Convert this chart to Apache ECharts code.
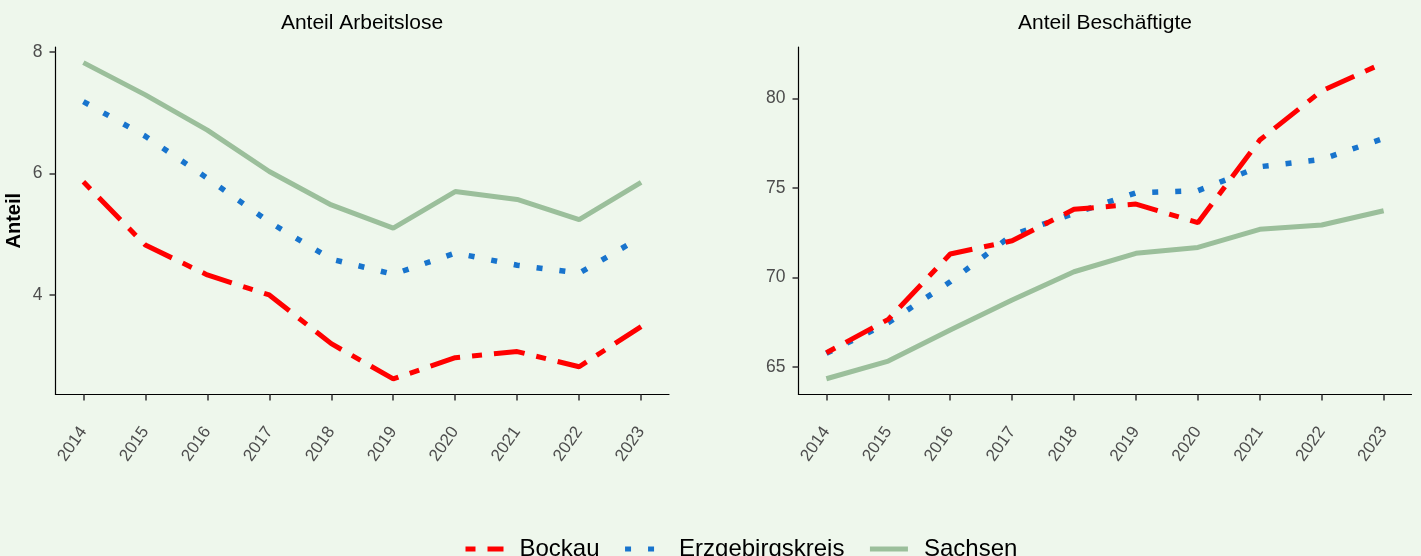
<!DOCTYPE html>
<html>
<head>
<meta charset="utf-8">
<script src="https://cdn.jsdelivr.net/npm/echarts@6/dist/echarts.min.js"></script>
<style>
  html, body { margin: 0; padding: 0; background: #EEF7EC; }
  #chart { width: 1421px; height: 556px; }
</style>
</head>
<body>
<div id="chart"></div>
<script>
// years shown on both panels
const years = [2014, 2015, 2016, 2017, 2018, 2019, 2020, 2021, 2022, 2023];

// Anteil Arbeitslose
const arbeitsloseBockau = [5.86, 4.82, 4.33, 4.00, 3.20, 2.62, 2.97, 3.07, 2.82, 3.48];
const arbeitsloseErzgebirge = [7.18, 6.61, 5.92, 5.20, 4.59, 4.34, 4.69, 4.49, 4.36, 4.95];
const arbeitsloseSachsen = [7.82, 7.29, 6.71, 6.03, 5.48, 5.10, 5.70, 5.57, 5.24, 5.85];

// Anteil Beschäftigte
const beschBockau = [65.78, 67.65, 71.30, 72.04, 73.80, 74.09, 73.05, 77.67, 80.42, 81.98];
const beschErzgebirge = [65.75, 67.46, 69.75, 72.36, 73.57, 74.72, 74.84, 76.18, 76.59, 77.76];
const beschSachsen = [64.33, 65.32, 67.05, 68.73, 70.31, 71.34, 71.67, 72.68, 72.92, 73.72];

const leftTicks = [4, 6, 8];
const rightTicks = [65, 70, 75, 80];

const FONT = 'Liberation Sans, Arial, sans-serif';
const RED = '#FF0000', BLUE = '#1874CD', GREEN = '#9BBF9B';

function pairs(vals) {
    return years.map((y, i) => [y, vals[i]]);
}

function xAxisFor(gridIndex) {
    return {
        type: 'value',
        gridIndex: gridIndex,
        min: 2013.55,
        max: 2023.45,
        axisLine: { show: true, onZero: false, lineStyle: { color: '#000', width: 1.2 } },
        axisTick: { show: true, length: 6, customValues: years, lineStyle: { color: '#333', width: 1.5 } },
        axisLabel: {
            customValues: years,
            rotate: 55,
            margin: 34,
            fontSize: 17,
            fontFamily: FONT,
            color: '#4D4D4D',
            formatter: v => String(v)
        },
        splitLine: { show: false }
    };
}

function yAxisFor(gridIndex, min, max, ticks, name) {
    return {
        type: 'value',
        gridIndex: gridIndex,
        min: min,
        max: max,
        name: name,
        nameLocation: 'middle',
        nameGap: 31,
        nameTextStyle: { fontSize: 20, fontWeight: 'bold', color: '#000', fontFamily: FONT },
        axisLine: { show: true, lineStyle: { color: '#000', width: 1.2 } },
        axisTick: { show: true, length: 6, customValues: ticks, lineStyle: { color: '#333', width: 1.5 } },
        axisLabel: { customValues: ticks, margin: 13, fontSize: 17.5, fontFamily: FONT, color: '#4D4D4D' },
        splitLine: { show: false }
    };
}

const styles = {
    'Bockau': { color: RED, lineStyle: { color: RED, width: 5, type: [10, 12, 31, 12] } },
    'Erzgebirgskreis': { color: BLUE, lineStyle: { color: BLUE, width: 5.5, type: [6, 17] } },
    'Sachsen': { color: GREEN, lineStyle: { color: GREEN, width: 5, type: 'solid' } }
};

function line(name, vals, idx) {
    return Object.assign({
        name: name,
        type: 'line',
        xAxisIndex: idx,
        yAxisIndex: idx,
        data: pairs(vals),
        showSymbol: false,
        symbol: 'none',
        animation: false,
        z: name == 'Sachsen' ? 1 : (name == 'Erzgebirgskreis' ? 2 : 3)
    }, styles[name]);
}

const option = {
    backgroundColor: '#EEF7EC',
    animation: false,
    title: [
        { text: 'Anteil Arbeitslose', left: 362, top: 13, textAlign: 'center', padding: 0,
          textStyle: { fontSize: 21, fontWeight: 'normal', color: '#000', fontFamily: FONT } },
        { text: 'Anteil Beschäftigte', left: 1105, top: 13, textAlign: 'center', padding: 0,
          textStyle: { fontSize: 21, fontWeight: 'normal', color: '#000', fontFamily: FONT } }
    ],
    legend: {
        data: ['Bockau', 'Erzgebirgskreis', 'Sachsen'],
        left: 463,
        top: 537,
        padding: 0,
        itemWidth: 38,
        itemHeight: 14,
        itemGap: 23,
        itemStyle: { opacity: 0, borderWidth: 0 },
        lineStyle: { width: 5 },
        textStyle: { fontSize: 24, color: '#000', fontFamily: FONT, padding: [0, 0, 0, 11] }
    },
    grid: [
        { left: 55.5, right: 752, top: 47, bottom: 161.5 },
        { left: 798.5, right: 9.5, top: 47, bottom: 161.5 }
    ],
    xAxis: [xAxisFor(0), xAxisFor(1)],
    yAxis: [
        yAxisFor(0, 2.364, 8.077, leftTicks, 'Anteil'),
        yAxisFor(1, 63.45, 82.87, rightTicks, '')
    ],
    series: [
        line('Bockau', arbeitsloseBockau, 0),
        line('Erzgebirgskreis', arbeitsloseErzgebirge, 0),
        line('Sachsen', arbeitsloseSachsen, 0),
        line('Bockau', beschBockau, 1),
        line('Erzgebirgskreis', beschErzgebirge, 1),
        line('Sachsen', beschSachsen, 1)
    ]
};

const chart = echarts.init(document.getElementById('chart'));
chart.setOption(option);
</script>
</body>
</html>
